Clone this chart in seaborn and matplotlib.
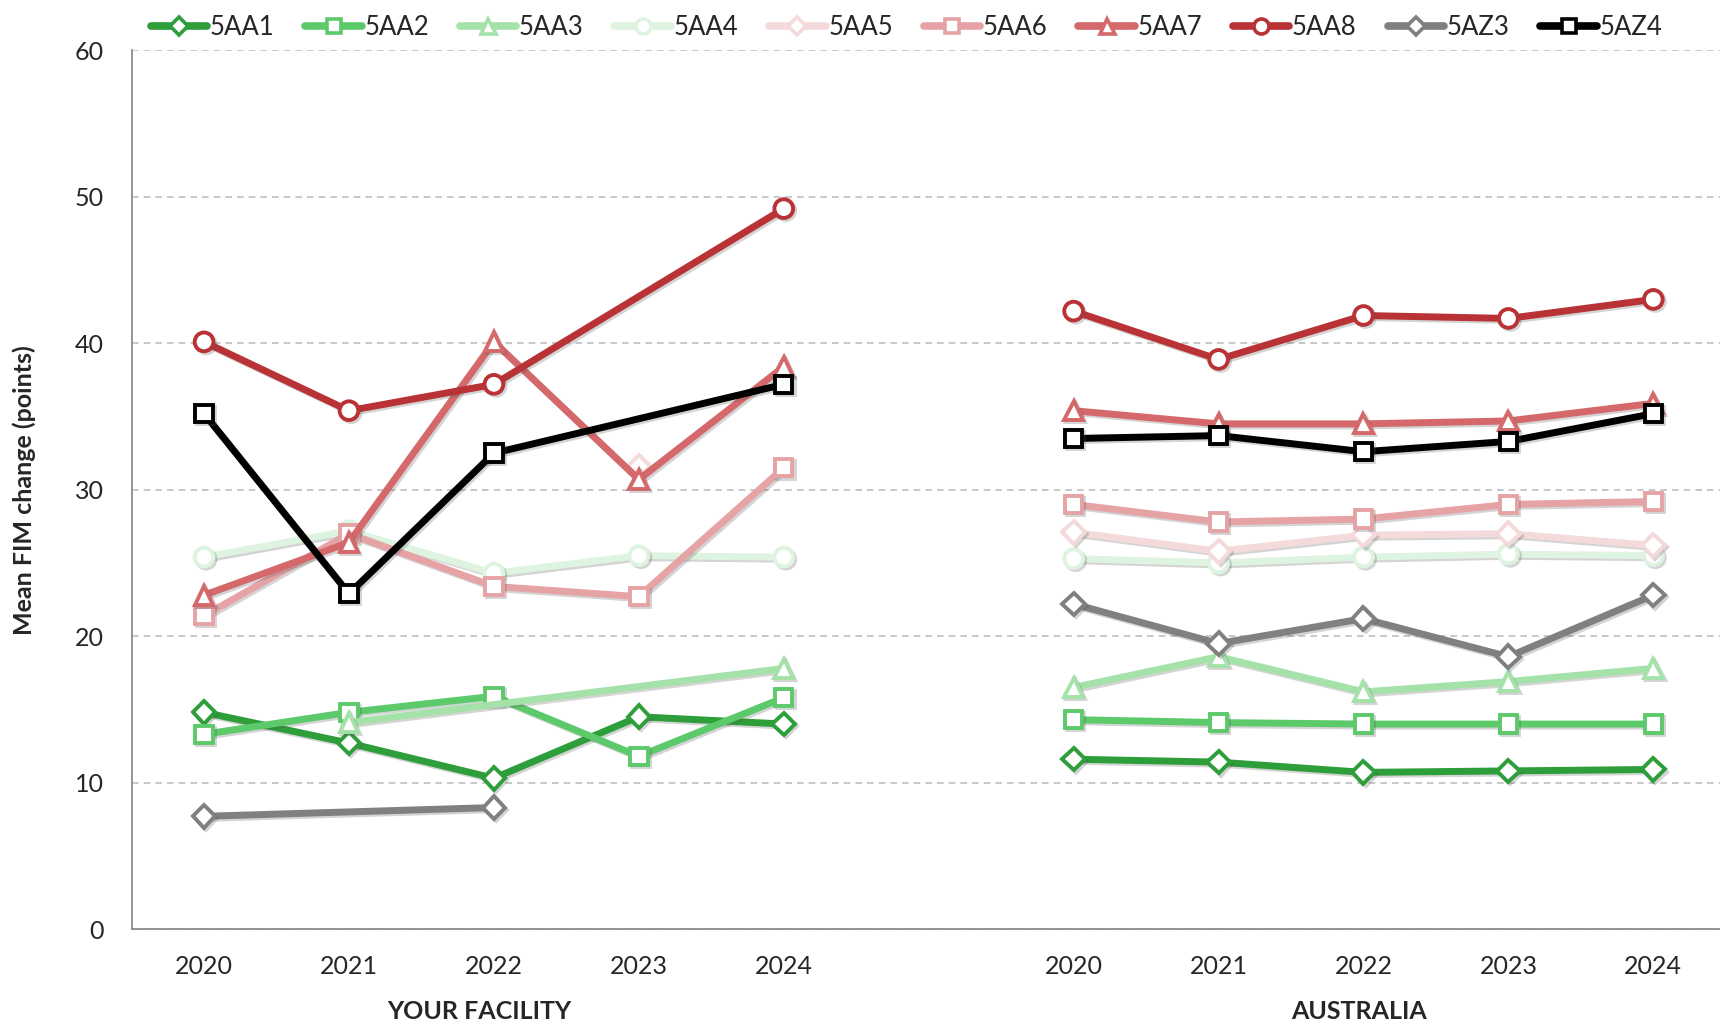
import numpy as np
import pandas as pd
import matplotlib
matplotlib.use("Agg")
import matplotlib.pyplot as plt
import matplotlib.patheffects as pe
from matplotlib.lines import Line2D
import seaborn as sns

years = ["2020", "2021", "2022", "2023", "2024"]
groups = ["YOUR FACILITY", "AUSTRALIA"]
series = ["5AA1", "5AA2", "5AA3", "5AA4", "5AA5", "5AA6", "5AA7", "5AA8", "5AZ3", "5AZ4"]

nan = np.nan
facility = {
    "5AA1": [14.8, 12.7, 10.3, 14.5, 14.0],
    "5AA2": [13.3, 14.8, 15.9, 11.8, 15.8],
    "5AA3": [nan, 14.1, nan, nan, 17.8],
    "5AA4": [25.4, 27.2, 24.3, 25.5, 25.4],
    "5AA5": [nan, nan, nan, 31.6, nan],
    "5AA6": [21.4, 27.0, 23.4, 22.7, 31.5],
    "5AA7": [22.8, 26.4, 40.1, 30.7, 38.4],
    "5AA8": [40.1, 35.4, 37.2, nan, 49.2],
    "5AZ3": [7.7, nan, 8.3, nan, nan],
    "5AZ4": [35.2, 22.9, 32.5, nan, 37.2],
}
australia = {
    "5AA1": [11.6, 11.4, 10.7, 10.8, 10.9],
    "5AA2": [14.3, 14.1, 14.0, 14.0, 14.0],
    "5AA3": [16.5, 18.6, 16.2, 16.9, 17.8],
    "5AA4": [25.3, 25.0, 25.4, 25.6, 25.5],
    "5AA5": [27.1, 25.8, 26.9, 27.0, 26.2],
    "5AA6": [29.0, 27.8, 28.0, 29.0, 29.2],
    "5AA7": [35.4, 34.5, 34.5, 34.7, 35.9],
    "5AA8": [42.2, 38.9, 41.9, 41.7, 43.0],
    "5AZ3": [22.2, 19.5, 21.2, 18.6, 22.8],
    "5AZ4": [33.5, 33.7, 32.6, 33.3, 35.2],
}

colors = {
    "5AA1": "#2e9e3b", "5AA2": "#5cc96b", "5AA3": "#a4e2aa", "5AA4": "#dff3e1",
    "5AA5": "#f5dadb", "5AA6": "#e5a3a5", "5AA7": "#d4686a", "5AA8": "#b93235",
    "5AZ3": "#808080", "5AZ4": "#000000",
}
markers = {
    "5AA1": "D", "5AA2": "s", "5AA3": "^", "5AA4": "o", "5AA5": "D",
    "5AA6": "s", "5AA7": "^", "5AA8": "o", "5AZ3": "D", "5AZ4": "s",
}
msizes = {"D": 11.5, "s": 12.5, "^": 13.5, "o": 13.5}

# long table: x position per year, with an empty slot between the two groups
rows = []
for g_i, (grp, tbl) in enumerate(zip(groups, [facility, australia])):
    for s in series:
        for y_i, yr in enumerate(years):
            rows.append({"group": grp, "series": s, "year": yr,
                         "pos": g_i * 6 + y_i, "value": tbl[s][y_i]})
df = pd.DataFrame(rows)

sns.set_theme(style="white")
plt.rcParams["font.family"] = ["Lato", "DejaVu Sans"]

fig = plt.figure(figsize=(17.2, 10.3), dpi=100)
ax = fig.add_axes([0.0765, 0.098, 0.9235, 0.853])

shadow = [pe.SimpleLineShadow(offset=(1.5, -1.5), alpha=0.25, shadow_color="#555555"), pe.Normal()]

for s in series:
    for grp in groups:
        sub = df[(df.series == s) & (df.group == grp)].dropna(subset=["value"])
        if sub.empty:
            continue
        m = markers[s]
        sns.lineplot(data=sub, x="pos", y="value", ax=ax, color=colors[s],
                     linewidth=5, marker=m, markersize=msizes[m],
                     markerfacecolor="white", markeredgecolor=colors[s],
                     markeredgewidth=2.8, estimator=None, sort=True,
                     path_effects=shadow, legend=False)

ax.set_xlim(-0.5, 10.46)
ax.set_ylim(0, 60)
ax.set_yticks(np.arange(0, 61, 10))
ax.set_xticks(list(range(0, 5)) + list(range(6, 11)))
ax.set_xticklabels(years + years)
ax.tick_params(axis="x", labelsize=18, pad=19, length=0)
ax.tick_params(axis="y", labelsize=18, pad=20, length=0)
ax.set_xlabel("")
ax.set_ylabel("Mean FIM change (points)", fontsize=18, fontweight="bold", labelpad=28)

ax.yaxis.grid(True, linestyle=(0, (4, 3)), color="#bfbfbf", linewidth=1.2)
ax.xaxis.grid(False)
for side in ["top", "right"]:
    ax.spines[side].set_visible(False)
for side in ["left", "bottom"]:
    ax.spines[side].set_color("#8c8c8c")
    ax.spines[side].set_linewidth(1.3)

label_pos = [1.9, 7.97]
for xp, grp in zip(label_pos, groups):
    ax.text(xp, -0.094, grp, transform=ax.get_xaxis_transform(),
            ha="center", va="center", fontsize=18, fontweight="bold")

handles = [Line2D([0], [0], color=colors[s], linewidth=5.5, marker=markers[s],
                  markersize=msizes[markers[s]] * 0.8, markerfacecolor="white",
                  markeredgecolor=colors[s], markeredgewidth=2.6)
           for s in series]
fig.legend(handles, series, loc="upper center", bbox_to_anchor=(0.527, 1.008),
           ncol=10, frameon=False, fontsize=18.5, handlelength=2.2,
           handletextpad=0.1, columnspacing=1.2)

fig.savefig("out.png", dpi=100, facecolor="white")
